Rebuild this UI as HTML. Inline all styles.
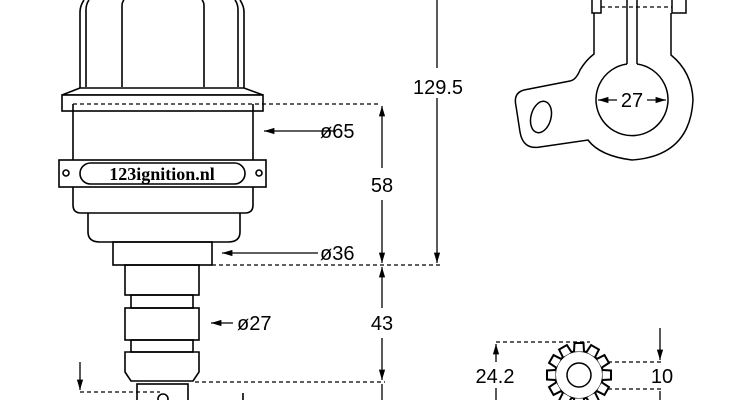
<!DOCTYPE html>
<html><head><meta charset="utf-8"><style>
html,body{margin:0;padding:0;background:#fff}
svg{display:block}
.t{font-family:"Liberation Sans",sans-serif;fill:#000}
.s{font-family:"Liberation Serif",serif;font-weight:bold;fill:#000}
</style></head><body>
<svg width="750" height="400" viewBox="0 0 750 400" xmlns="http://www.w3.org/2000/svg">
<defs>
<marker id="a" viewBox="0 0 10 10" refX="10" refY="5" markerWidth="8" markerHeight="8" orient="auto-start-reverse"><path d="M0,2 L10,5 L0,8 z" fill="#000"/></marker>
</defs>
<g fill="none" stroke="#000" stroke-width="1.6">
<path d="M80,88 L80,12 Q80,6 84,0 M244,88 L244,12 Q244,6 240,0"/>
<path d="M86,87 L86,10 Q86,4 89,0 M238,87 L238,10 Q238,4 235,0"/>
<path d="M122,87 L122,6 Q122,2 124,0 M204,87 L204,6 Q204,2 202,0"/>
<path d="M80,88 L62,95 L263,95 L244,88 Z" fill="#fff"/>
<rect x="62" y="95" width="201" height="16" fill="#fff"/>
<path d="M73,104 L73,205 Q73,213 81,213 L245,213 Q253,213 253,205 L253,104"/>
<rect x="59" y="160" width="207" height="27" fill="#fff"/>
<rect x="80" y="163" width="165" height="21" rx="10.5" fill="#fff"/>
<circle cx="66" cy="173" r="3"/><circle cx="259" cy="173" r="3"/>
<path d="M88,213 L88,232 Q88,242 100,242 L228,242 Q240,242 240,232 L240,213"/>
<rect x="113" y="242" width="99" height="23"/>
<rect x="125" y="265" width="74" height="30"/>
<rect x="131" y="295" width="62" height="13"/>
<rect x="125" y="308" width="74" height="32"/>
<rect x="131" y="340" width="62" height="12"/>
<path d="M125,352 L199,352 L199,372 L193,381 L131,381 L125,372 Z"/>
<rect x="137" y="384" width="51" height="20"/>
<circle cx="163" cy="399" r="5"/>
<path d="M243,393 L243,400"/>
</g>
<text x="162" y="180" class="s" font-size="18" text-anchor="middle">123ignition.nl</text>
<g fill="none" stroke="#000" stroke-width="1.3" stroke-dasharray="4,3">
<path d="M73,104 L380,104"/>
<path d="M212,265 L440,265"/>
<path d="M195,382 L385,382"/>
<path d="M80,392 L160,392"/>
<path d="M601,7 L672,7"/>
<path d="M496,342 L590,342"/>
<path d="M608,362 L662,362 M608,389 L662,389"/>
</g>
<g fill="none" stroke="#000" stroke-width="1.3">
<path d="M336,131 L264,131" marker-end="url(#a)"/>
<path d="M318,253 L222,253" marker-end="url(#a)"/>
<path d="M233,323 L211,323" marker-end="url(#a)"/>
<path d="M382,106 L382,168" marker-start="url(#a)"/>
<path d="M382,200 L382,263" marker-end="url(#a)"/>
<path d="M382,267 L382,308" marker-start="url(#a)"/>
<path d="M382,338 L382,380" marker-end="url(#a)"/>
<path d="M382,384 L382,400"/>
<path d="M437,98 L437,263" marker-end="url(#a)"/>
<path d="M437,0 L437,68"/>
<path d="M80,362 L80,390" marker-end="url(#a)"/>
<path d="M496,344 L496,362" marker-start="url(#a)"/>
<path d="M496,388 L496,400"/>
<path d="M660,328 L660,360" marker-end="url(#a)"/>
<path d="M660,391 L660,400"/>
<path d="M598,100 L617,100" marker-start="url(#a)"/>
<path d="M647,100 L666,100" marker-end="url(#a)"/>
</g>
<text x="320" y="138" class="t" font-size="20">ø65</text>
<text x="320" y="260" class="t" font-size="20">ø36</text>
<text x="237" y="330" class="t" font-size="20">ø27</text>
<text x="382" y="192" class="t" font-size="20" text-anchor="middle">58</text>
<text x="382" y="330" class="t" font-size="20" text-anchor="middle">43</text>
<text x="438" y="94" class="t" font-size="20" text-anchor="middle">129.5</text>
<text x="632" y="107" class="t" font-size="20" text-anchor="middle">27</text>
<text x="495" y="383" class="t" font-size="20" text-anchor="middle">24.2</text>
<text x="662" y="383" class="t" font-size="20" text-anchor="middle">10</text>
<g fill="none" stroke="#000" stroke-width="1.5">
<path d="M592,0 L592,13 L601,13 L601,0 M672,0 L672,13 L686,13 L686,0"/>
<path d="M627,0 L627,64 M637,0 L637,64"/>
<path d="M594,13 L594,54 Q586,60 580,70 Q576,80 570,81 L524,90 Q513,93 516,106 L520,132 Q523,150 540,147 L588,140 Q600,156 632,160 Q690,156 693,100 Q692,72 671,55 L671,13"/>
<path d="M627,64 A36,36 0 1 0 637,64"/>
<ellipse cx="541" cy="117" rx="10" ry="16" transform="rotate(15 541 117)"/>
</g>
<g transform="translate(579,375)" fill="none" stroke="#000" stroke-width="2">
<circle r="24"/>
<g id="tooth"><path d="M-5,-23.5 L-4.5,-32 L4.5,-32 L5,-23.5" fill="#fff"/></g>
<use href="#tooth" transform="rotate(30)"/><use href="#tooth" transform="rotate(60)"/>
<use href="#tooth" transform="rotate(90)"/><use href="#tooth" transform="rotate(120)"/>
<use href="#tooth" transform="rotate(150)"/><use href="#tooth" transform="rotate(180)"/>
<use href="#tooth" transform="rotate(210)"/><use href="#tooth" transform="rotate(240)"/>
<use href="#tooth" transform="rotate(270)"/><use href="#tooth" transform="rotate(300)"/>
<use href="#tooth" transform="rotate(330)"/>
</g>
<circle cx="579" cy="375" r="12" fill="none" stroke="#000" stroke-width="1.5"/>
</svg>
</body></html>
